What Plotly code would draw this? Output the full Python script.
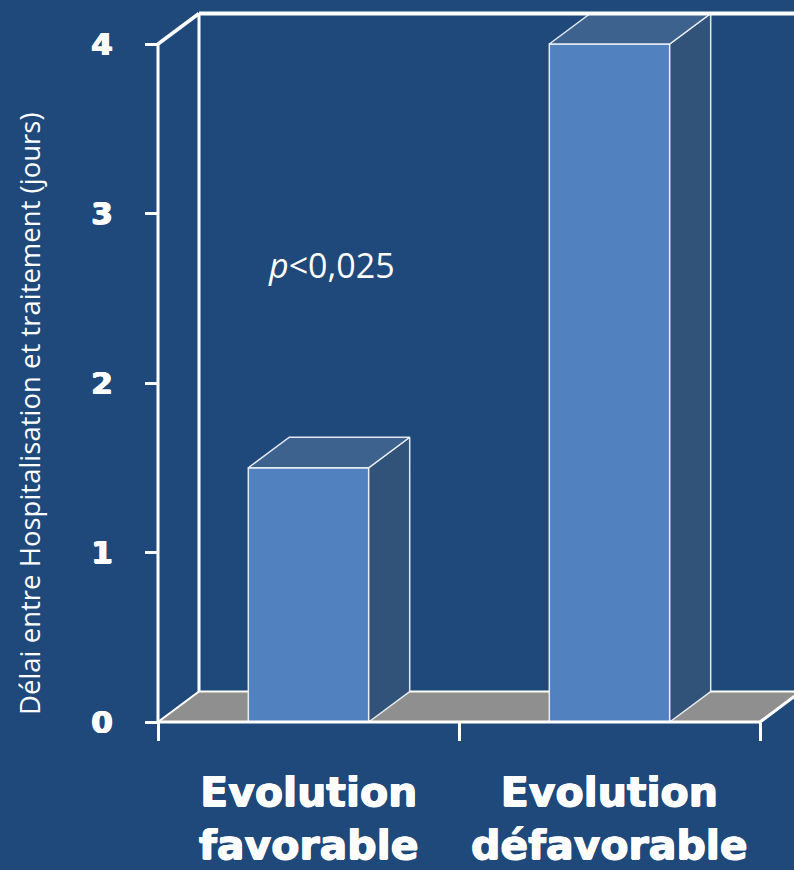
import plotly.graph_objects as go

# ---- data -------------------------------------------------------------
categories = ["Evolution<br>favorable", "Evolution<br>défavorable"]
delai_jours = [1.5, 4.0]
y_ticks = [0, 1, 2, 3, 4]
y_title = "Délai entre Hospitalisation et traitement (jours)"
p_text = "<i>p</i>&lt;0,025"

# ---- geometry (pixels) ------------------------------------------------
W, H = 794, 870
ML, MB = 150, 140            # left / bottom margins
X0_PX, Y0_PX = 158, 722      # front-left-bottom corner of the box
PX_X = 301.0                 # pixels per category slot
PX_Y = 169.5                 # pixels per day
DX = 41 / PX_X               # depth offset of the pseudo-3D box
DY = 30.5 / PX_Y
BAR_W = 0.4

plot_w, plot_h = W - ML, H - MB
x_range = [-0.5 - (X0_PX - ML) / PX_X, -0.5 + (W - X0_PX) / PX_X]
y_range = [-(plot_h - Y0_PX) / PX_Y, Y0_PX / PX_Y]

# ---- colours ----------------------------------------------------------
BG = "#1f487b"
FRONT = "#5182bf"
SIDE = "#325379"
TOP = "#3e628e"
FLOOR = "#8f8f8f"
EDGE = "rgba(240,244,250,0.92)"
WHITE = "#ffffff"
HEAVY = "0.7px 0px 0px #ffffff, -0.7px 0px 0px #ffffff, 0px 0.5px 0px #ffffff"

xs = list(range(len(categories)))
x_left, x_right = -0.5, len(categories) - 0.5
y_top = y_ticks[-1]

fig = go.Figure()

# front faces
fig.add_trace(go.Bar(
    x=xs, y=delai_jours, width=BAR_W,
    marker=dict(color=FRONT, line=dict(color=EDGE, width=1.5)),
    hoverinfo="skip", showlegend=False,
))

# side and top faces of each bar
for c, v in zip(xs, delai_jours):
    r = c + BAR_W / 2
    l = c - BAR_W / 2
    fig.add_trace(go.Scatter(
        x=[r, r + DX, r + DX, r, r], y=[0, DY, v + DY, v, 0],
        mode="lines", fill="toself", fillcolor=SIDE,
        line=dict(color=EDGE, width=1.5), hoverinfo="skip", showlegend=False,
    ))
    fig.add_trace(go.Scatter(
        x=[l, l + DX, r + DX, r, l], y=[v, v + DY, v + DY, v, v],
        mode="lines", fill="toself", fillcolor=TOP,
        line=dict(color=EDGE, width=1.5), hoverinfo="skip", showlegend=False,
    ))

shapes = [
    # floor
    dict(type="path", layer="below", xref="x", yref="y",
         path=f"M {x_left},0 L {x_right},0 L {x_right + DX},{DY} L {x_left + DX},{DY} Z",
         fillcolor=FLOOR, line=dict(color=WHITE, width=2)),
    # back wall left edge
    dict(type="line", layer="below", xref="x", yref="y",
         x0=x_left + DX, y0=DY, x1=x_left + DX, y1=y_top + DY,
         line=dict(color=WHITE, width=3)),
    # back wall top edge
    dict(type="line", layer="above", xref="x", yref="y",
         x0=x_left + DX, y0=y_top + DY, x1=x_range[1], y1=y_top + DY,
         line=dict(color=WHITE, width=4)),
    # front vertical axis
    dict(type="line", layer="above", xref="x", yref="y",
         x0=x_left, y0=0, x1=x_left, y1=y_top,
         line=dict(color=WHITE, width=3)),
    dict(type="line", layer="above", xref="x", yref="y",
         x0=x_left, y0=y_top, x1=x_left + DX, y1=y_top + DY,
         line=dict(color=WHITE, width=3.5)),
    # front baseline and right floor edge
    dict(type="line", layer="above", xref="x", yref="y",
         x0=x_left, y0=0, x1=x_right, y1=0,
         line=dict(color=WHITE, width=3)),
    dict(type="line", layer="above", xref="x", yref="y",
         x0=x_right, y0=0, x1=x_right + DX, y1=DY,
         line=dict(color=WHITE, width=3)),
]

annotations = [
    dict(text=y_title, textangle=-90, showarrow=False,
         xref="paper", yref="paper",
         x=(29 - ML) / plot_w, y=(plot_h - 414) / plot_h,
         xanchor="center", yanchor="middle",
         font=dict(family="Open Sans", size=27.5, color=WHITE)),
    dict(text=p_text, showarrow=False, xref="x", yref="y",
         x=-0.5 + (331 - X0_PX) / PX_X, y=(Y0_PX - 265) / PX_Y,
         xanchor="center", yanchor="middle",
         font=dict(family="Open Sans", size=34, color=WHITE)),
]
for c, name in zip(xs, categories):
    annotations.append(dict(
        text=name, showarrow=False, xref="x", yref="paper",
        x=c, y=(plot_h - 818) / plot_h, xanchor="center", yanchor="middle",
        font=dict(family="DejaVu Sans", size=41, color=WHITE, weight="bold",
                  shadow=HEAVY),
    ))

fig.update_layout(
    width=W, height=H,
    margin=dict(l=ML, r=0, t=0, b=MB, pad=0),
    paper_bgcolor=BG, plot_bgcolor=BG,
    showlegend=False,
    shapes=shapes, annotations=annotations,
    xaxis=dict(
        range=x_range, showgrid=False, zeroline=False, showline=False,
        tickvals=[x_left, 0.5, x_right], ticktext=["", "", ""],
        ticks="outside", ticklen=18, tickwidth=2.5, tickcolor=WHITE,
        anchor="free", position=(plot_h - Y0_PX) / plot_h, fixedrange=True,
    ),
    yaxis=dict(
        range=y_range, showgrid=False, zeroline=False, showline=False,
        tickvals=y_ticks, ticks="outside", ticklen=13, tickwidth=2.5,
        tickcolor=WHITE, ticklabelstandoff=26,
        tickfont=dict(family="DejaVu Sans", size=31, color=WHITE, weight="bold",
                      shadow=HEAVY),
        anchor="free", position=(X0_PX - ML) / plot_w, fixedrange=True,
    ),
)

fig.write_html("out.html")
